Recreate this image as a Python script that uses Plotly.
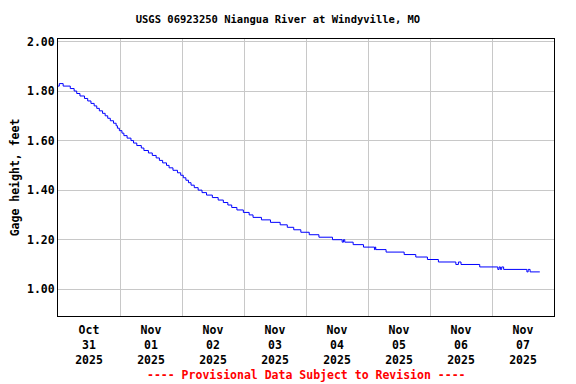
import plotly.graph_objects as go

# Step-change readings (15-min gage data, 0.01 ft resolution)
times = [
    "2025-10-31 00:00", "2025-10-31 00:30", "2025-10-31 02:00", "2025-10-31 04:45",
    "2025-10-31 06:15", "2025-10-31 07:15", "2025-10-31 08:30", "2025-10-31 10:15",
    "2025-10-31 11:30", "2025-10-31 12:45", "2025-10-31 14:00", "2025-10-31 15:00",
    "2025-10-31 16:00", "2025-10-31 17:15", "2025-10-31 18:15", "2025-10-31 19:15",
    "2025-10-31 20:15", "2025-10-31 21:30", "2025-10-31 22:30", "2025-10-31 23:00",
    "2025-10-31 23:45", "2025-11-01 00:45", "2025-11-01 01:30", "2025-11-01 02:45",
    "2025-11-01 04:15", "2025-11-01 05:15", "2025-11-01 06:30", "2025-11-01 08:15",
    "2025-11-01 09:15", "2025-11-01 11:00", "2025-11-01 12:30", "2025-11-01 14:00",
    "2025-11-01 15:15", "2025-11-01 16:30", "2025-11-01 18:00", "2025-11-01 19:00",
    "2025-11-01 20:30", "2025-11-01 22:15", "2025-11-01 23:30", "2025-11-02 00:30",
    "2025-11-02 01:30", "2025-11-02 02:30", "2025-11-02 03:30", "2025-11-02 04:45",
    "2025-11-02 06:15", "2025-11-02 07:45", "2025-11-02 09:30", "2025-11-02 11:45",
    "2025-11-02 14:00", "2025-11-02 16:00", "2025-11-02 17:45", "2025-11-02 19:15",
    "2025-11-02 21:15", "2025-11-02 23:45", "2025-11-03 02:00", "2025-11-03 03:30",
    "2025-11-03 06:45", "2025-11-03 10:15", "2025-11-03 14:00", "2025-11-03 16:45",
    "2025-11-03 19:15", "2025-11-03 22:00", "2025-11-04 01:15", "2025-11-04 05:00",
    "2025-11-04 10:15", "2025-11-04 14:00", "2025-11-04 14:30", "2025-11-04 15:00",
    "2025-11-04 18:15", "2025-11-04 22:15", "2025-11-05 02:30", "2025-11-05 02:45",
    "2025-11-05 03:00", "2025-11-05 07:00", "2025-11-05 14:00", "2025-11-05 18:30",
    "2025-11-05 23:00", "2025-11-06 03:15", "2025-11-06 10:00", "2025-11-06 11:00",
    "2025-11-06 12:00", "2025-11-06 19:15", "2025-11-07 02:15", "2025-11-07 02:45",
    "2025-11-07 03:15", "2025-11-07 03:45", "2025-11-07 04:30", "2025-11-07 13:30",
    "2025-11-07 14:00", "2025-11-07 14:45", "2025-11-07 18:30",
]
gage_height = [
    1.82, 1.83, 1.82, 1.81,
    1.80, 1.79, 1.78, 1.77,
    1.76, 1.75, 1.74, 1.73,
    1.72, 1.71, 1.70, 1.69,
    1.68, 1.67, 1.66, 1.65,
    1.64, 1.63, 1.62, 1.61,
    1.60, 1.59, 1.58, 1.57,
    1.56, 1.55, 1.54, 1.53,
    1.52, 1.51, 1.50, 1.49,
    1.48, 1.47, 1.46, 1.45,
    1.44, 1.43, 1.42, 1.41,
    1.40, 1.39, 1.38, 1.37,
    1.36, 1.35, 1.34, 1.33,
    1.32, 1.31, 1.30, 1.29,
    1.28, 1.27, 1.26, 1.25,
    1.24, 1.23, 1.22, 1.21,
    1.20, 1.19, 1.20, 1.19,
    1.18, 1.17, 1.16, 1.17,
    1.16, 1.15, 1.14, 1.13,
    1.12, 1.11, 1.10, 1.11,
    1.10, 1.09, 1.08, 1.09,
    1.08, 1.09, 1.08, 1.07,
    1.08, 1.07, 1.07,
]

tick_dates = ["2025-10-31 12:00", "2025-11-01 12:00", "2025-11-02 12:00", "2025-11-03 12:00",
              "2025-11-04 12:00", "2025-11-05 12:00", "2025-11-06 12:00", "2025-11-07 12:00"]
tick_labels = ["Oct<br>31<br>2025", "Nov<br>01<br>2025", "Nov<br>02<br>2025", "Nov<br>03<br>2025",
               "Nov<br>04<br>2025", "Nov<br>05<br>2025", "Nov<br>06<br>2025", "Nov<br>07<br>2025"]
y_ticks = [1.00, 1.20, 1.40, 1.60, 1.80, 2.00]

FONT = "DejaVu Sans Mono"
W, H = 568, 376  # page body adds an 8px offset

fig = go.Figure()
fig.add_trace(go.Scatter(
    x=times, y=gage_height, mode="lines", line_shape="hv",
    line=dict(color="#0000ff", width=1), showlegend=False, hoverinfo="skip",
))

fig.update_layout(
    width=W, height=H,
    margin=dict(l=50, r=22, t=31, b=68, autoexpand=False),
    paper_bgcolor="white", plot_bgcolor="white",
    font=dict(family=FONT, size=11.5, color="black", weight="bold"),
    title=dict(text="USGS 06923250 Niangua River at Windyville, MO",
               xref="paper", x=0.4435, xanchor="center", yref="container",
               y=1 - 11 / H, yanchor="middle",
               font=dict(family=FONT, size=10.5, color="black", weight="bold")),
    xaxis=dict(
        type="date", range=["2025-10-31 00:00", "2025-11-08 00:00"],
        tickvals=tick_dates, ticktext=tick_labels, ticks="", ticklabelstandoff=3,
        showgrid=False, showline=True, linecolor="black", linewidth=1, mirror=True,
        zeroline=False,
        minor=dict(showgrid=True, gridcolor="#c8c8c8", gridwidth=1,
                   tick0="2025-10-31 00:00", dtick=86400000, ticks=""),
        tickfont=dict(family=FONT, size=11.5, color="black", weight="bold"),
    ),
    yaxis=dict(
        range=[0.892, 2.01], tickvals=y_ticks, tickformat=".2f", ticks="",
        showgrid=True, gridcolor="#c8c8c8", gridwidth=1,
        showline=True, linecolor="black", linewidth=1, mirror=True, zeroline=False,
        title=dict(text="Gage height, feet", standoff=15,
                   font=dict(family=FONT, size=11.5, color="black", weight="bold")),
        tickfont=dict(family=FONT, size=11.5, color="black", weight="bold"),
    ),
    annotations=[dict(
        text="---- Provisional Data Subject to Revision ----",
        xref="paper", yref="paper", x=0.5, y=-(375 - 316) / 277,
        xanchor="center", yanchor="middle", showarrow=False,
        font=dict(family=FONT, size=11.5, color="red", weight="bold"),
    )],
)

fig.write_html("out.html")
